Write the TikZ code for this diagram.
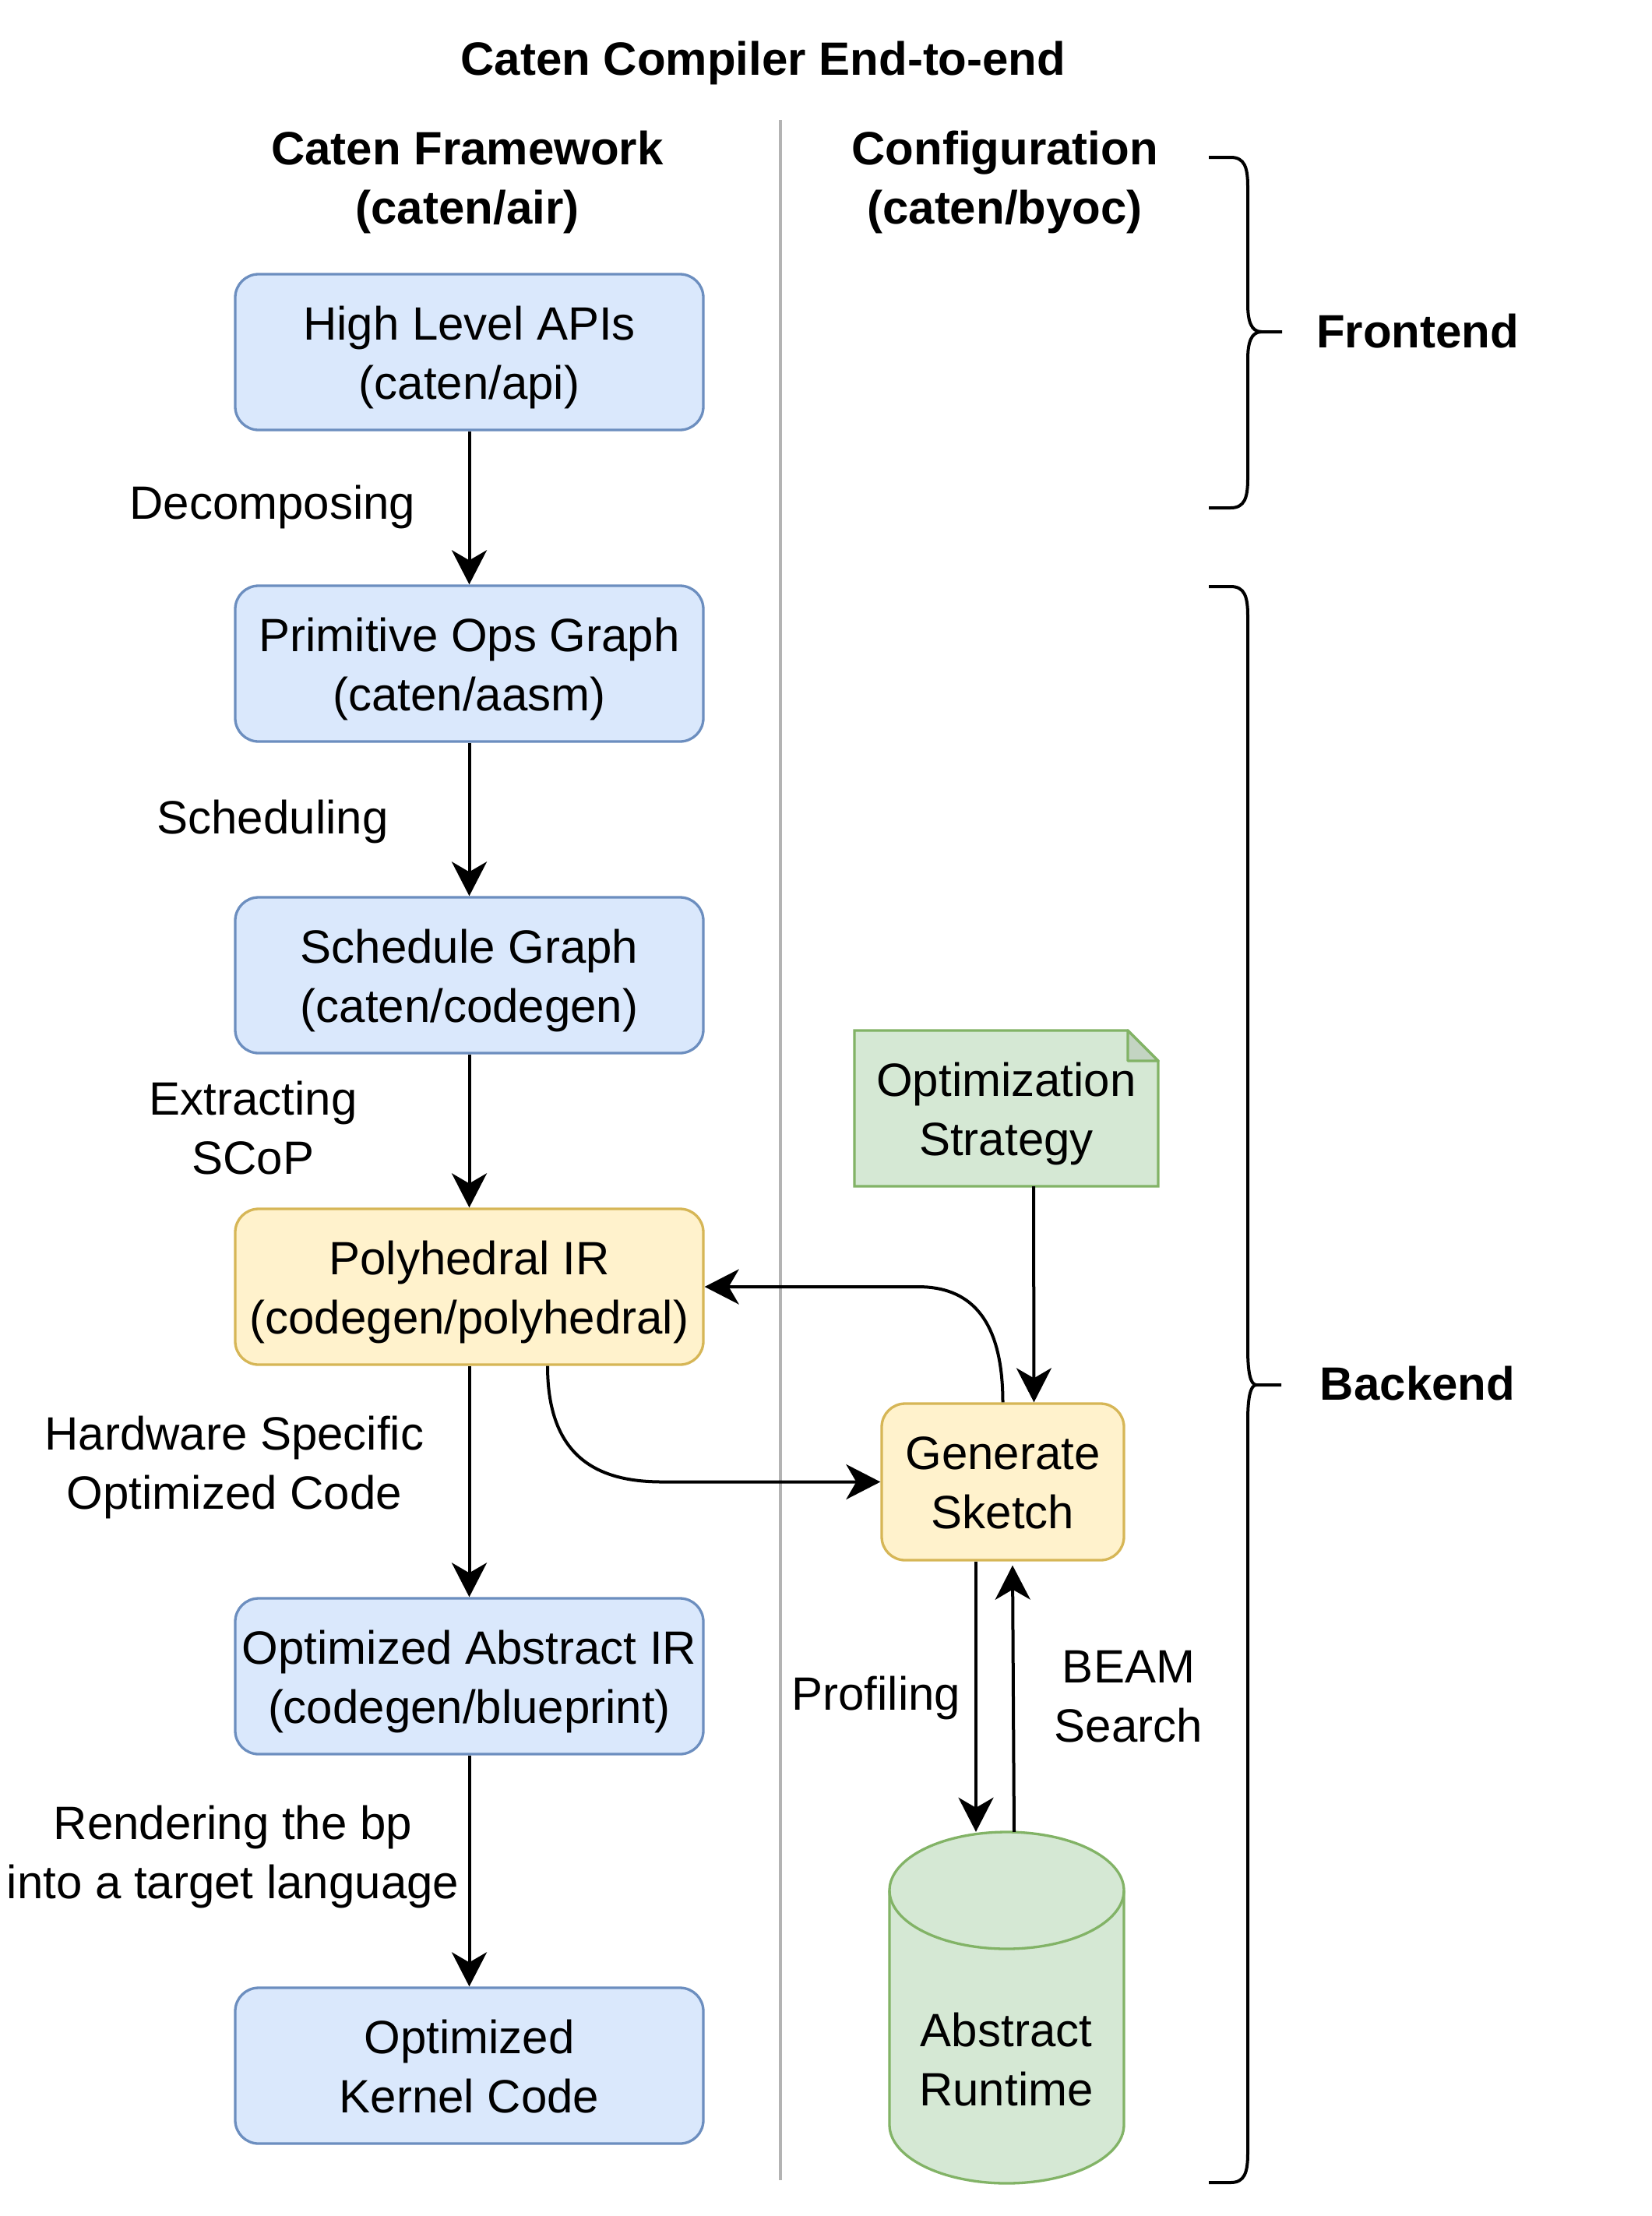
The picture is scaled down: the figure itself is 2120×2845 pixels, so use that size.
\documentclass[tikz,border=0pt]{standalone}
\usepackage{fontspec}
\setmainfont{Liberation Sans}
\usetikzlibrary{arrows.meta,calc}
\definecolor{bluefill}{HTML}{DAE8FC}
\definecolor{bluedraw}{HTML}{6C8EBF}
\definecolor{yelfill}{HTML}{FFF2CC}
\definecolor{yeldraw}{HTML}{D6B656}
\definecolor{grnfill}{HTML}{D5E8D4}
\definecolor{grndraw}{HTML}{82B366}
\definecolor{grnfold}{HTML}{C3D4C2}
\definecolor{divider}{HTML}{B3B3B3}
\newcommand{\twolines}[2]{\rule{0pt}{58pt}#1\\#2\rule[-14pt]{0pt}{14pt}}
\begin{document}
\begin{tikzpicture}[x=1pt,y=-1pt,
  every node/.style={font=\fontsize{60}{76}\selectfont, align=center, inner sep=0pt,
    execute at begin node={\rule{0pt}{58pt}},
    execute at end node={\rule[-14pt]{0pt}{14pt}}},
  boldtext/.style={font=\fontsize{60}{76}\selectfont\bfseries},
  box/.style={rounded corners=30pt, line width=3.3pt, minimum width=601pt, minimum height=200pt},
  bluebox/.style={box, fill=bluefill, draw=bluedraw},
  yelbox/.style={box, fill=yelfill, draw=yeldraw},
  conn/.style={line width=4pt, -{Stealth[length=44pt, width=45pt, inset=13pt]}},
  bracestyle/.style={line width=4pt},
  shapeline/.style={line width=3.3pt, draw=grndraw},
]
\fill[white] (0,0) rectangle (2120,2845);
\useasboundingbox (0,0) rectangle (2120,2845);

% title and column headers
\node[boldtext] (title) at (980,74) {Caten Compiler End-to-end};
\node[boldtext] (hdrair) at (600,227) {\twolines{Caten Framework}{(caten/air)}};
\node[boldtext] (hdrbyoc) at (1290,227) {\twolines{Configuration}{(caten/byoc)}};

% divider
\draw[divider, line width=3.5pt] (1002,154) -- (1002,2799);

% braces
\draw[bracestyle] (1552,202) -- (1580,202) .. controls (1598,202) and (1602,215) .. (1602,240)
  -- (1602,390) .. controls (1602,412) and (1606,426) .. (1620,426) -- (1646,426);
\draw[bracestyle] (1620,426) .. controls (1606,426) and (1602,440) .. (1602,462)
  -- (1602,614) .. controls (1602,639) and (1598,652) .. (1580,652) -- (1552,652);
\node[boldtext] (front) at (1820,424) {Frontend};

\draw[bracestyle] (1552,753) -- (1580,753) .. controls (1598,753) and (1602,766) .. (1602,791)
  -- (1602,1732) .. controls (1602,1760) and (1605,1778) .. (1613,1778) -- (1645,1778);
\draw[bracestyle] (1613,1778) .. controls (1605,1778) and (1602,1796) .. (1602,1824)
  -- (1602,2764) .. controls (1602,2789) and (1598,2802) .. (1580,2802) -- (1552,2802);
\node[boldtext] (back) at (1820,1775) {Backend};

% left column
\node[bluebox] (api) at (602.5,452) {\twolines{High Level APIs}{(caten/api)}};
\node[bluebox] (aasm) at (602.5,852) {\twolines{Primitive Ops Graph}{(caten/aasm)}};
\node[bluebox] (sched) at (602.5,1252) {\twolines{Schedule Graph}{(caten/codegen)}};
\node[yelbox] (poly) at (602.5,1652) {\twolines{Polyhedral IR}{(codegen/polyhedral)}};
\node[bluebox] (bp) at (602.5,2152) {\twolines{Optimized Abstract IR}{(codegen/blueprint)}};
\node[bluebox] (kernel) at (602.5,2652) {\twolines{Optimized}{Kernel Code}};

\draw[conn] (api) -- (aasm);
\draw[conn] (aasm) -- (sched);
\draw[conn] (sched) -- (poly);
\draw[conn] (poly) -- (bp);
\draw[conn] (bp) -- (kernel);

\node (ldecomp) at (350,644) {Decomposing};
\node (lsched) at (350,1048) {Scheduling};
\node (lscop) at (325,1447) {\twolines{Extracting}{SCoP}};
\node (lhw) at (301,1877) {\twolines{Hardware Specific}{Optimized Code}};
\node (lrender) at (299,2377) {\twolines{Rendering the bp}{into a target language}};

% optimization strategy note
\filldraw[shapeline, fill=grnfill] (1097,1323) -- (1448,1323) -- (1487,1362) -- (1487,1523) -- (1097,1523) -- cycle;
\filldraw[shapeline, fill=grnfold, line join=round] (1448,1323) -- (1448,1362) -- (1487,1362) -- cycle;
\node[minimum width=390pt, minimum height=200pt] (strat) at (1292,1423) {\twolines{Optimization}{Strategy}};

% generate sketch
\node[yelbox, minimum width=311pt, minimum height=201pt] (gen) at (1287.5,1902.5) {\twolines{Generate}{Sketch}};

% abstract runtime cylinder
\filldraw[shapeline, fill=grnfill] (1142,2427) -- (1142,2728)
  arc[start angle=180, end angle=0, x radius=150.5, y radius=75] -- (1443,2427)
  arc[start angle=0, end angle=-180, x radius=150.5, y radius=75] -- cycle;
\draw[shapeline] (1142,2427) arc[start angle=180, end angle=0, x radius=150.5, y radius=75];
\node[minimum width=301pt, minimum height=451pt] (rt) at (1292.5,2577.5) {};
\node (rtlabel) at (1292,2643) {\twolines{Abstract}{Runtime}};

% right connectors
\draw[conn] ($(strat.south)+(35,0)$) -- ($(gen.north)+(40,0)$);
\draw[conn] ($(poly.south)+(100.5,0)$) .. controls +(0,120) and +(-80,0) .. ($(gen.west)+(-280,0)$) -- (gen.west);
\draw[conn] (gen.north) .. controls +(0,-112) and +(63,0) .. ($(poly.east)+(274,0)$) -- (poly.east);
\draw[conn] ($(gen.south)+(-34.5,0)$) -- ($(rt.north)+(-39.5,0)$);
\draw[conn] ($(rt.north)+(9.5,0)$) -- ($(gen.south)+(12.5,5)$);

\node (lprof) at (1125,2173) {Profiling};
\node (lbeam) at (1449,2176) {\twolines{BEAM}{Search}};
\end{tikzpicture}
\end{document}
